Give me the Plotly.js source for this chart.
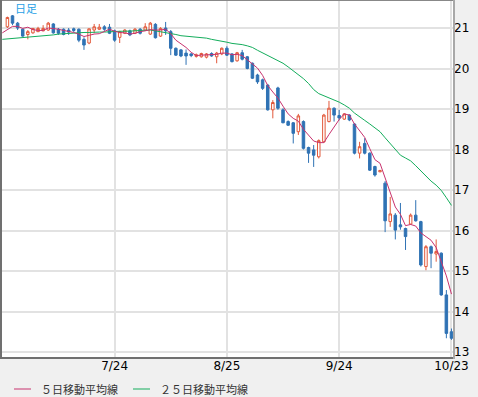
<!DOCTYPE html>
<html><head><meta charset="utf-8">
<script src="https://cdn.plot.ly/plotly-3.0.1.min.js"></script>
<style>html,body{margin:0;padding:0;background:#f0f0f0;} #chart{width:478px;height:397px;}</style>
</head><body><div id="chart"></div>
<script>
const openP  = [21.03,21.30,21.12,20.97,20.84,20.88,20.91,20.93,20.95,21.10,
                20.97,20.97,20.95,20.98,20.97,20.72,20.63,20.95,20.97,21.03,
                21.02,20.93,20.77,20.87,20.93,20.87,20.97,20.95,20.85,21.09,
                20.80,21.00,20.91,20.50,20.46,20.38,20.36,20.30,20.29,20.28,
                20.37,20.29,20.36,20.50,20.36,20.19,20.39,20.29,20.13,19.84,
                19.72,19.59,18.98,19.52,18.98,18.69,18.66,18.44,18.69,18.05,
                17.99,17.82,18.19,18.69,19.02,18.84,18.75,18.85,18.63,17.91,
                18.15,17.91,17.58,17.45,17.17,16.22,16.38,16.14,16.05,16.16,
                16.38,16.22,15.11,15.60,15.42,15.44,14.41,13.50];
const highP  = [21.28,21.32,21.15,20.99,20.95,21.00,21.03,21.07,21.15,21.12,
                21.00,20.99,21.00,21.01,20.99,20.77,20.99,21.10,21.10,21.07,
                21.10,20.96,20.93,20.97,20.96,21.00,21.00,21.12,21.15,21.12,
                21.02,21.15,20.95,20.52,20.48,20.47,20.38,20.37,20.39,20.38,
                20.40,20.41,20.52,20.55,20.38,20.41,20.46,20.31,20.15,19.87,
                19.75,19.62,19.22,19.55,19.02,18.72,18.68,18.88,18.72,18.07,
                18.11,18.25,18.88,19.20,19.04,18.98,18.90,18.87,18.65,18.19,
                18.28,17.93,17.60,17.50,17.22,16.83,16.43,16.68,16.07,16.42,
                16.75,16.24,15.64,15.63,15.78,15.46,14.53,13.58];
const lowP   = [21.00,21.07,20.95,20.78,20.72,20.86,20.90,20.92,20.93,20.86,
                20.83,20.82,20.83,20.90,20.65,20.46,20.60,20.87,20.95,20.93,
                20.85,20.66,20.63,20.85,20.80,20.85,20.84,20.93,20.83,20.74,
                20.78,20.83,20.33,20.31,20.28,20.09,20.28,20.27,20.27,20.25,
                20.29,20.13,20.33,20.31,20.15,20.17,20.20,19.98,19.74,19.62,
                19.47,18.96,18.77,18.98,18.65,18.58,18.15,18.36,18.00,17.67,
                17.57,17.78,18.17,18.67,18.69,18.72,18.73,18.70,17.88,17.78,
                17.88,17.47,17.33,17.44,15.96,16.09,15.78,16.02,15.52,16.14,
                16.22,15.11,15.02,15.07,15.23,14.39,13.34,13.30];
const closeP = [21.26,21.12,21.00,20.80,20.91,20.99,20.99,20.99,21.12,20.88,
                20.87,20.84,20.90,20.94,20.70,20.58,20.98,21.03,21.02,20.97,
                20.87,20.70,20.91,20.95,20.83,20.97,20.87,21.03,21.12,20.76,
                20.99,20.93,20.50,20.33,20.31,20.31,20.32,20.34,20.37,20.36,
                20.31,20.38,20.50,20.33,20.17,20.39,20.23,20.00,19.76,19.67,
                19.51,18.98,19.16,19.02,18.66,18.60,18.40,18.83,18.03,17.91,
                17.86,18.22,18.85,19.02,18.85,18.78,18.88,18.73,17.91,18.07,
                17.91,17.49,17.37,17.48,16.24,16.41,16.01,16.09,15.85,16.38,
                16.24,15.15,15.60,15.44,15.48,14.41,13.46,13.34];
// moving averages, starting one day before the first candle
const ma5  = [20.88,
              20.95,21.04,21.04,20.99,21.02,20.96,20.94,20.94,21.00,20.99,
              20.97,20.94,20.92,20.89,20.85,20.79,20.82,20.85,20.86,20.92,
              20.97,20.92,20.89,20.88,20.85,20.87,20.91,20.93,20.96,20.95,
              20.95,20.97,20.86,20.70,20.61,20.52,20.40,20.32,20.33,20.34,
              20.34,20.35,20.38,20.38,20.34,20.35,20.32,20.22,20.11,20.01,
              19.83,19.58,19.42,19.27,19.07,18.88,18.77,18.70,18.50,18.35,
              18.21,18.17,18.17,18.37,18.56,18.74,18.88,18.85,18.63,18.47,
              18.30,18.02,17.75,17.66,17.30,16.92,16.58,16.40,16.12,16.15,
              16.11,15.94,15.84,15.76,15.58,15.22,14.88,14.43];
const ma25 = [20.72,
              20.73,20.75,20.76,20.77,20.78,20.79,20.80,20.81,20.82,20.83,
              20.85,20.86,20.87,20.88,20.88,20.89,20.89,20.90,20.90,20.90,
              20.91,20.91,20.92,20.92,20.92,20.93,20.94,20.94,20.95,20.93,
              20.91,20.89,20.87,20.84,20.81,20.80,20.78,20.77,20.76,20.75,
              20.72,20.70,20.67,20.65,20.62,20.61,20.59,20.56,20.52,20.45,
              20.39,20.32,20.26,20.20,20.13,20.04,19.95,19.86,19.75,19.63,
              19.48,19.38,19.33,19.27,19.22,19.17,19.10,19.02,18.90,18.80,
              18.72,18.63,18.53,18.44,18.29,18.15,18.00,17.86,17.79,17.72,
              17.60,17.47,17.35,17.22,17.12,16.99,16.81,16.62];
const tickDays   = [21, 43, 65, 87];
const tickLabels = ['7/24', '8/25', '9/24', '10/23'];
const yTicks     = [13, 14, 15, 16, 17, 18, 19, 20, 21];
const seriesNames = ['５日移動平均線', '２５日移動平均線'];
const periodLabel = '日足';

const days = openP.map((_, i) => i);
const maDays = ma5.map((_, i) => i - 1);

const C_UP = '#e2583a', C_DN = '#2f72b4', C_MA5 = '#c8326e', C_MA25 = '#14ad5c';

const traces = [
  {type:'candlestick', x: days, open: openP, high: highP, low: lowP, close: closeP,
   increasing: {line:{color:C_UP, width:1}, fillcolor:'#ffffff'},
   decreasing: {line:{color:C_DN, width:1}, fillcolor:C_DN},
   whiskerwidth: 0, hoverinfo:'skip', showlegend:false},
  {type:'scatter', mode:'lines', x: maDays, y: ma25, name: seriesNames[1],
   line:{color:C_MA25, width:1}, hoverinfo:'skip', showlegend:false},
  {type:'scatter', mode:'lines', x: maDays, y: ma5, name: seriesNames[0],
   line:{color:C_MA5, width:1}, hoverinfo:'skip', showlegend:false}
];

const W = 478, H = 397, L = 2, R = 25, T = 1, B = 40;
const pw = W - L - R, ph = H - T - B;
const px = v => (v - L) / pw;
const py = v => (H - B - v) / ph;

const legY = 389;
const layout = {
  width: W, height: H,
  margin: {l:L, r:R, t:T, b:B, pad:0},
  paper_bgcolor: '#f0f0f0', plot_bgcolor: '#ffffff',
  showlegend: false,
  xaxis: {
    range: [-1.06, 87.3], tickvals: tickDays, ticktext: tickLabels,
    showgrid: true, gridcolor: '#e2e2e2', gridwidth: 2,
    zeroline: false, showline: false, ticks: '',
    tickfont: {family:'DejaVu Sans', size:12, color:'#000'},
    rangeslider: {visible:false}, fixedrange: true
  },
  yaxis: {
    side: 'right', range: [12.877, 21.667], tickvals: yTicks,
    showgrid: true, gridcolor: '#e2e2e2', gridwidth: 2,
    zeroline: false, showline: false, ticks: '',
    tickfont: {family:'DejaVu Sans', size:12, color:'#000'},
    fixedrange: true
  },
  shapes: [
    {type:'line', xref:'paper', yref:'paper', x0:px(0), x1:px(455), y0:py(0.5), y1:py(0.5), line:{color:'#888888', width:1}, layer:'above'},
    {type:'line', xref:'paper', yref:'paper', x0:px(1), x1:px(1), y0:py(0), y1:py(359), line:{color:'#707070', width:2}, layer:'above'},
    {type:'line', xref:'paper', yref:'paper', x0:px(0), x1:px(455), y0:py(358), y1:py(358), line:{color:'#707070', width:2}, layer:'above'},
    {type:'line', xref:'paper', yref:'paper', x0:px(454), x1:px(454), y0:py(0), y1:py(359), line:{color:'#a8a8a8', width:2}, layer:'above'},
    {type:'line', xref:'paper', yref:'paper', x0:px(14), x1:px(31), y0:py(legY), y1:py(legY), line:{color:C_MA5, width:1}},
    {type:'line', xref:'paper', yref:'paper', x0:px(133), x1:px(150), y0:py(legY), y1:py(legY), line:{color:C_MA25, width:1}}
  ],
  annotations: [
    {xref:'paper', yref:'paper', x:px(39), y:py(legY), xanchor:'left', yanchor:'middle', showarrow:false,
     text: seriesNames[0], font:{family:'Noto Sans CJK JP', size:11, color:'#333333'}},
    {xref:'paper', yref:'paper', x:px(158), y:py(legY), xanchor:'left', yanchor:'middle', showarrow:false,
     text: seriesNames[1], font:{family:'Noto Sans CJK JP', size:11, color:'#333333'}},
    {xref:'paper', yref:'paper', x:px(13), y:py(8), xanchor:'left', yanchor:'middle', showarrow:false,
     text: periodLabel, font:{family:'Noto Sans CJK JP', size:11, color:'#1f9fe6'}}
  ]
};

Plotly.newPlot('chart', traces, layout, {staticPlot:true, displayModeBar:false});
</script>
</body></html>
